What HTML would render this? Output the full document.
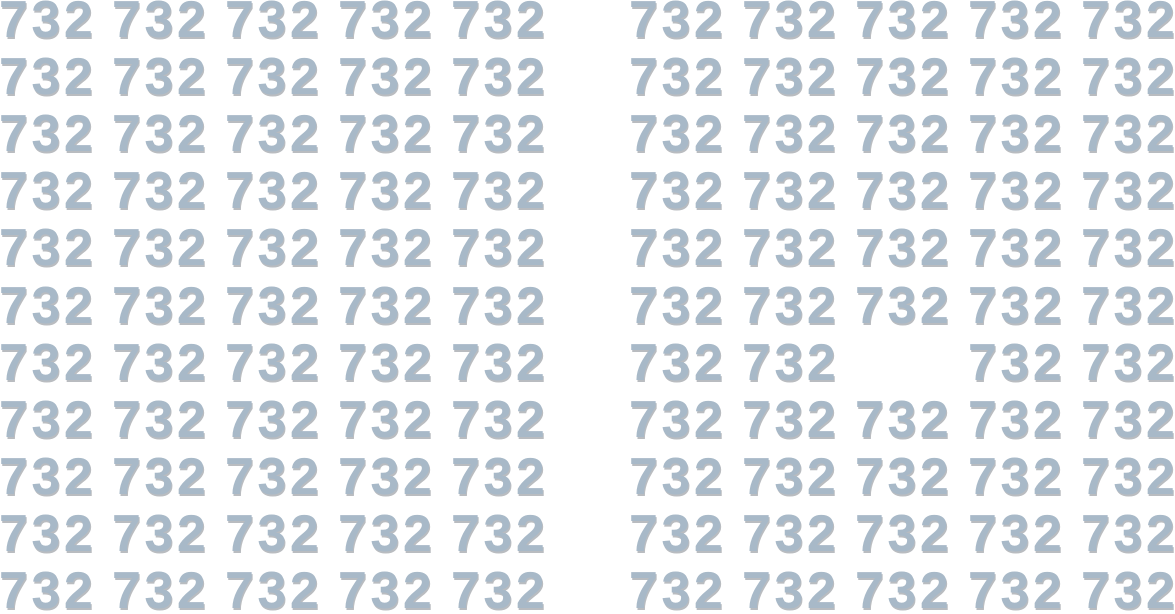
<!DOCTYPE html>
<html><head><meta charset="utf-8"><style>
html,body{margin:0;padding:0;background:#fff;width:1175px;height:614px;overflow:hidden;position:relative}
.n{position:absolute;font-family:"Liberation Sans",sans-serif;font-weight:bold;font-size:52px;line-height:1;color:#a8b9c8;letter-spacing:3.5px;text-shadow:1px 2px 0 #b9bcc0;white-space:nowrap}
</style></head><body>
<script>
const rows=11, cols=5;
const blockX=[-1,629];
const missing={block:1,row:6,col:2};
for(let b=0;b<2;b++)for(let r=0;r<rows;r++)for(let c=0;c<cols;c++){
  if(b===missing.block&&r===missing.row&&c===missing.col)continue;
  const d=document.createElement('div');
  d.className='n';
  d.textContent='732';
  d.style.left=(blockX[b]+c*113)+'px';
  d.style.top=(-6+r*57.1)+'px';
  
  
  document.body.appendChild(d);
}
</script>
</body></html>
